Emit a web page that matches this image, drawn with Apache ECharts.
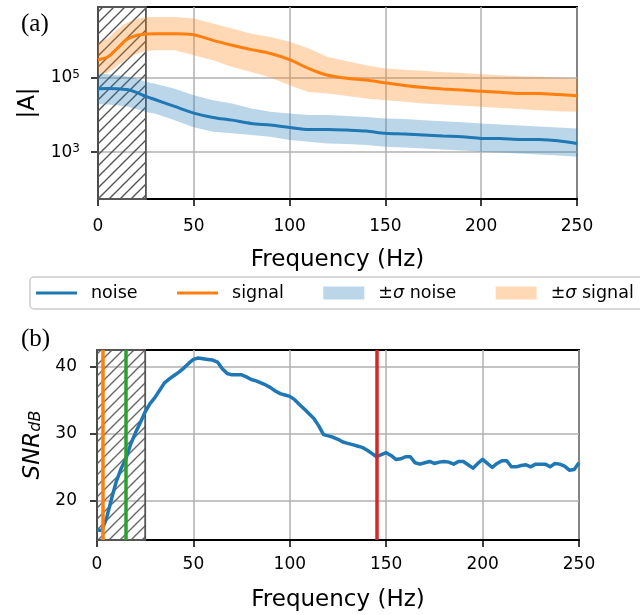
<!DOCTYPE html>
<html><head><meta charset="utf-8">
<script src="https://cdn.jsdelivr.net/npm/echarts@6/dist/echarts.min.js"></script>
<style>html,body{margin:0;padding:0;background:#fff}#c{width:640px;height:615px}</style>
</head><body><div id="c"></div>
<script>
// ---------- data ----------
const ampFreq = [0,5,10,15,20,25,30,40,50,60,70,80,90,100,110,120,130,140,150,160,170,180,190,200,210,220,230,240,250];
const noiseMean = [5.01e4,5.07e4,5.01e4,4.73e4,3.98e4,3.09e4,2.51e4,1.66e4,1.10e4,8.41e3,7.11e3,5.79e3,5.22e3,4.53e3,3.98e3,3.98e3,3.83e3,3.60e3,3.13e3,2.99e3,2.81e3,2.64e3,2.53e3,2.29e3,2.26e3,2.15e3,2.13e3,1.98e3,1.68e3];
const noiseUpper = [1.29e5,1.23e5,1.15e5,1.07e5,9.33e4,7.59e4,6.76e4,5.01e4,3.31e4,2.45e4,2.00e4,1.47e4,1.19e4,1.08e4,9.70e3,9.70e3,9.12e3,8.57e3,7.91e3,7.57e3,7.11e3,6.68e3,6.28e3,5.79e3,5.46e3,5.13e3,4.82e3,4.53e3,4.26e3];
const noiseLower = [1.91e4,1.86e4,1.78e4,1.66e4,1.41e4,1.17e4,1.05e4,7.08e3,4.57e3,3.45e3,3.13e3,2.81e3,2.53e3,2.06e3,1.86e3,1.68e3,1.61e3,1.51e3,1.36e3,1.30e3,1.22e3,1.15e3,1.08e3,1.00e3,951,895,841,791,735];
const signalMean = [3.02e5,3.55e5,6.03e5,1.05e6,1.35e6,1.48e6,1.51e6,1.51e6,1.41e6,1.00e6,7.41e5,5.62e5,4.42e5,3.02e5,1.74e5,1.15e5,9.55e4,8.51e4,7.16e4,6.10e4,5.37e4,4.90e4,4.57e4,4.27e4,3.98e4,3.72e4,3.72e4,3.47e4,3.20e4];
const signalUpper = [8.51e5,1.12e6,2.00e6,2.95e6,3.80e6,4.17e6,4.27e6,4.27e6,3.89e6,2.82e6,2.09e6,1.51e6,1.23e6,9.12e5,6.03e5,3.55e5,2.75e5,2.14e5,1.74e5,1.62e5,1.51e5,1.38e5,1.32e5,1.23e5,1.15e5,1.08e5,1.04e5,9.89e4,9.33e4];
const signalLower = [1.26e5,1.32e5,2.04e5,3.16e5,4.27e5,5.13e5,5.37e5,5.37e5,3.98e5,2.92e5,1.93e5,1.41e5,1.00e5,6.17e4,4.07e4,3.72e4,3.16e4,2.72e4,2.45e4,2.21e4,2.00e4,1.86e4,1.74e4,1.62e4,1.51e4,1.42e4,1.32e4,1.24e4,1.19e4];

const snrFreq = [0,2.5,5,7.5,10,12.5,15,17.5,20,22.5,25,27.5,30,32.5,35,37.5,40,42.5,45,47.5,50,52.5,55,57.5,60,62.5,65,67.5,70,72.5,75,77.5,80,82.5,85,87.5,90,92.5,95,97.5,100,102.5,105,107.5,110,112.5,115,117.5,120,122.5,125,127.5,130,132.5,135,137.5,140,142.5,145,147.5,150,152.5,155,157.5,160,162.5,165,167.5,170,172.5,175,177.5,180,182.5,185,187.5,190,192.5,195,197.5,200,202.5,205,207.5,210,212.5,215,217.5,220,222.5,225,227.5,230,232.5,235,237.5,240,242.5,245,247.5,250];
const snrValues = [15.7,15.6,17.5,20.3,22.9,24.85,26.3,28.5,30.2,31.7,33.3,34.5,35.4,36.5,37.6,38.2,38.7,39.2,39.8,40.5,41.1,41.3,41.2,41.1,41.0,40.7,39.7,39.0,38.8,38.8,38.8,38.5,38.1,37.9,37.6,37.3,36.9,36.4,36.0,35.8,35.6,35.1,34.4,33.7,33.0,32.3,31.2,29.9,29.7,29.5,29.2,28.8,28.6,28.4,28.2,28.0,27.6,27.1,26.6,26.9,27.2,26.8,26.2,26.3,26.6,26.6,25.7,25.5,25.7,25.9,25.6,25.8,25.9,25.8,25.5,25.9,25.9,25.4,24.9,25.6,26.2,25.6,25.0,25.6,26.0,26.0,25.1,25.1,25.3,25.4,25.1,25.5,25.5,25.5,25.1,25.6,25.5,25.2,24.6,24.7,25.7];

const markerFreqs = [3, 15, 145];
const markerColors = ['#ff7f0e', '#2ca02c', '#d62728'];
const hatchRange = [0, 25];
const ampTicks = [1e3, 1e5];
const snrTicks = [20, 30, 40];
const legendNames = ['noise', 'signal', '±σ noise', '±σ signal'];

// ---------- helpers ----------
const pairs = (xs, ys) => xs.map((x, i) => [x, ys[i]]);
function hatch(color, w) {
  const c = document.createElement('canvas');
  c.width = 11; c.height = 11;
  const g = c.getContext('2d');
  g.strokeStyle = color; g.lineWidth = w;
  g.beginPath();
  for (const o of [-11, 0, 11]) { g.moveTo(o - 1, 12); g.lineTo(o + 12, -1); }
  g.stroke();
  return c;
}
const FONT = 'DejaVu Sans';
const BLUE = '#1f77b4', ORANGE = '#ff7f0e';
const BLUE_FILL = 'rgba(31,119,180,0.3)', ORANGE_FILL = 'rgba(255,127,14,0.3)';
const LINE_ICON = 'path://M0,0L0.05,0L0,0.05Z M41,13L40.95,13L41,12.95Z M0,5L41,5L41,8L0,8Z';

function xAxisCfg(grid, margin, nameGap) {
  return {
    type: 'value', gridIndex: grid, min: 0, max: 250, interval: 50,
    axisLine: { show: true, onZero: false, lineStyle: { color: '#000', width: 2 } },
    axisTick: { show: true, length: 7, lineStyle: { color: '#000', width: 1.5 } },
    axisLabel: { margin: margin, fontSize: 17, fontFamily: FONT, color: '#000' },
    splitLine: { show: true, lineStyle: { color: '#b0b0b0', width: 1.5 } },
    name: 'Frequency (Hz)', nameLocation: 'middle', nameGap: nameGap,
    nameTextStyle: { fontSize: 23, fontFamily: FONT, color: '#000' }
  };
}
function hatchSeries(xi, color) {
  return {
    type: 'line', xAxisIndex: xi, yAxisIndex: xi, data: [], z: 1, silent: true,
    markArea: {
      silent: true,
      itemStyle: { color: { image: hatch(color, 1.4), repeat: 'repeat' }, borderColor: '#555', borderWidth: 1.8, opacity: 1 },
      data: [[{ xAxis: hatchRange[0] }, { xAxis: hatchRange[1] }]]
    }
  };
}
function bandSeries(name, lower, upper, fill) {
  return {
    type: 'custom', name: name, xAxisIndex: 0, yAxisIndex: 0, z: 2, silent: true,
    itemStyle: { color: fill },
    data: [[ampFreq[0], lower[0]]],
    renderItem: function (params, api) {
      const pts = [];
      for (let i = 0; i < ampFreq.length; i++) pts.push(api.coord([ampFreq[i], upper[i]]));
      for (let i = ampFreq.length - 1; i >= 0; i--) pts.push(api.coord([ampFreq[i], lower[i]]));
      return { type: 'polygon', shape: { points: pts }, style: { fill: fill } };
    }
  };
}

const chart = echarts.init(document.getElementById('c'), null, { renderer: 'canvas' });
chart.setOption({
  animation: false,
  backgroundColor: '#fff',
  textStyle: { fontFamily: FONT },
  grid: [
    { left: 98, width: 479, top: 7, height: 192, show: true, borderColor: '#000', borderWidth: 2, containLabel: false },
    { left: 97, width: 482, top: 350, height: 190, show: true, borderColor: '#000', borderWidth: 2, containLabel: false }
  ],
  graphic: [
    { type: 'text', left: 21, top: 12, style: { text: '(a)', fontSize: 25, fontFamily: 'Liberation Serif', fill: '#000' } },
    { type: 'text', left: 21, top: 327, style: { text: '(b)', fontSize: 25, fontFamily: 'Liberation Serif', fill: '#000' } }
  ],
  legend: {
    left: 30, top: 277, width: 700, orient: 'horizontal', selectedMode: false,
    padding: [7, 45, 7, 6], itemWidth: 41, itemHeight: 13, itemGap: 39.5,
    backgroundColor: '#fff', borderColor: '#cccccc', borderWidth: 1.5, borderRadius: 4,
    textStyle: { fontFamily: FONT, fontSize: 17.5, color: '#000', padding: [0, 0, 0, 9],
      rich: { i: { fontStyle: 'italic', fontFamily: FONT, fontSize: 17.5, color: '#000' } } },
    formatter: n => n.replace('σ', '{i|σ}'),
    data: [
      { name: legendNames[0], icon: LINE_ICON, itemStyle: { color: BLUE, borderWidth: 0 } },
      { name: legendNames[1], icon: LINE_ICON, itemStyle: { color: ORANGE, borderWidth: 0 } },
      { name: legendNames[2], icon: 'rect', itemStyle: { color: BLUE_FILL, borderWidth: 0 } },
      { name: legendNames[3], icon: 'rect', itemStyle: { color: ORANGE_FILL, borderWidth: 0 } }
    ]
  },
  xAxis: [xAxisCfg(0, 19, 50), xAxisCfg(1, 16, 49)],
  yAxis: [
    {
      type: 'log', gridIndex: 0, logBase: 10, min: 53.5, max: 7.9e6,
      axisLine: { show: true, lineStyle: { color: '#000', width: 2 } },
      axisTick: { show: true, length: 7, lineStyle: { color: '#000', width: 1.5 }, customValues: ampTicks },
      axisLabel: {
        customValues: ampTicks, margin: 18, color: '#000',
        formatter: v => '{b|10}{s|' + Math.round(Math.log10(v)) + '}',
        rich: {
          b: { fontSize: 17, fontFamily: FONT, color: '#000', lineHeight: 18, verticalAlign: 'bottom' },
          s: { fontSize: 12, fontFamily: FONT, color: '#000', lineHeight: 14, verticalAlign: 'top' }
        }
      },
      splitLine: { show: true, lineStyle: { color: '#b0b0b0', width: 1.5 } },
      name: '|A|', nameLocation: 'middle', nameGap: 58, nameRotate: 90,
      nameTextStyle: { fontSize: 23, fontFamily: FONT, color: '#000' }
    },
    {
      type: 'value', gridIndex: 1, min: 14.2, max: 42.5,
      axisLine: { show: true, onZero: false, lineStyle: { color: '#000', width: 2 } },
      axisTick: { show: true, length: 7, lineStyle: { color: '#000', width: 1.5 }, customValues: snrTicks },
      axisLabel: { customValues: snrTicks, margin: 20, fontSize: 17, fontFamily: FONT, color: '#000' },
      splitLine: { show: true, lineStyle: { color: '#b0b0b0', width: 1.5 } },
      name: '{a|SNR}{b|dB}', nameLocation: 'middle', nameGap: 52, nameRotate: 90,
      nameTextStyle: {
        rich: {
          a: { fontSize: 23, fontStyle: 'italic', fontFamily: FONT, color: '#000', lineHeight: 22, verticalAlign: 'top' },
          b: { fontSize: 16, fontStyle: 'italic', fontFamily: FONT, color: '#000', lineHeight: 14, verticalAlign: 'bottom' }
        }
      }
    }
  ],
  series: [
    hatchSeries(0, '#555'),
    bandSeries(legendNames[2], noiseLower, noiseUpper, BLUE_FILL),
    bandSeries(legendNames[3], signalLower, signalUpper, ORANGE_FILL),
    { type: 'line', name: legendNames[0], data: pairs(ampFreq, noiseMean), symbol: 'none', smooth: 0.3,
      color: BLUE, lineStyle: { color: BLUE, width: 3 }, z: 3, xAxisIndex: 0, yAxisIndex: 0 },
    { type: 'line', name: legendNames[1], data: pairs(ampFreq, signalMean), symbol: 'none', smooth: 0.3,
      color: ORANGE, lineStyle: { color: ORANGE, width: 3 }, z: 3, xAxisIndex: 0, yAxisIndex: 0 },
    hatchSeries(1, '#666'),
    { type: 'line', name: 'SNR', data: pairs(snrFreq, snrValues), symbol: 'none',
      color: BLUE, lineStyle: { color: BLUE, width: 3.5, join: 'round' }, z: 3, xAxisIndex: 1, yAxisIndex: 1 },
    { type: 'line', name: 'markers', data: [], xAxisIndex: 1, yAxisIndex: 1, z: 4, silent: true,
      markLine: {
        silent: true, symbol: 'none', label: { show: false },
        data: markerFreqs.map((f, i) => ({ xAxis: f, lineStyle: { color: markerColors[i], width: 3.5, type: 'solid' } }))
      } }
  ]
});
</script>
</body></html>
